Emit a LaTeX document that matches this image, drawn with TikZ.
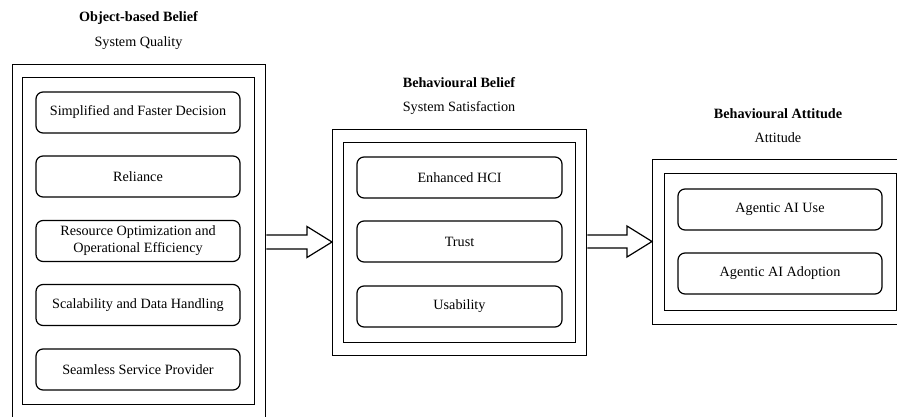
\documentclass[tikz,border=0pt]{standalone}
\usepackage{fontspec}
\setmainfont{Liberation Serif}
\usetikzlibrary{calc}

\tikzset{
  txt/.style={font=\fontsize{14.2}{17}\selectfont, inner sep=0pt, align=center},
  heading/.style={txt, font=\fontsize{14.2}{17}\selectfont\bfseries},
  frame/.style={draw, line width=1.3pt, inner sep=0pt},
  item/.style={txt, draw, line width=1.2pt, rounded corners=7pt,
               minimum width=204pt, minimum height=41pt},
  blockarrow/.style={draw, line width=1.2pt, line join=miter},
}

\begin{document}
\begin{tikzpicture}[x=1pt, y=-1pt]
  \useasboundingbox (0,0) rectangle (897,417);
  \clip (0,0) rectangle (897,417);

  % ---- Object-based belief: system quality ----
  \node[heading] (tq) at (138.5,18) {Object-based Belief};
  \node[txt] (sq) at (138.5,43) {System Quality};
  \node[frame, minimum width=253pt, minimum height=366pt, anchor=north west] (qOuter) at (12,64) {};
  \node[frame, minimum width=232pt, minimum height=327pt, anchor=north west] (qInner) at (22,77) {};
  \node[item] (q1) at (138,112.5) {Simplified and Faster Decision};
  \node[item] (q2) at (138,176.5) {Reliance};
  \node[item] (q3) at (138,241) {Resource Optimization and\\Operational Efficiency};
  \node[item] (q4) at (138,305) {Scalability and Data Handling};
  \node[item] (q5) at (138,369.5) {Seamless Service Provider};

  % ---- Behavioural belief: system satisfaction ----
  \node[heading] (tb) at (459,83) {Behavioural Belief};
  \node[txt] (sb) at (459,108) {System Satisfaction};
  \node[frame, minimum width=254pt, minimum height=226pt, anchor=north west] (sOuter) at (332,129) {};
  \node[frame, minimum width=232pt, minimum height=200pt, anchor=north west] (sInner) at (343,142) {};
  \node[item, minimum width=205pt] (s1) at (459.5,177.5) {Enhanced HCI};
  \node[item, minimum width=205pt] (s2) at (459.5,241.5) {Trust};
  \node[item, minimum width=205pt] (s3) at (459.5,306.5) {Usability};

  % ---- Behavioural attitude ----
  \node[heading] (ta) at (778,114) {Behavioural Attitude};
  \node[txt] (sa) at (778,138) {Attitude};
  \node[frame, minimum width=256pt, minimum height=165pt, anchor=north west] (aOuter) at (652,159) {};
  \node[frame, minimum width=232pt, minimum height=137pt, anchor=north west] (aInner) at (664,173) {};
  \node[item] (a1) at (780,209.5) {Agentic AI Use};
  \node[item] (a2) at (780,273.5) {Agentic AI Adoption};

  % ---- block arrows between the stages ----
  \coordinate (r1s) at (qOuter.east |- 0,242);
  \coordinate (r1e) at (sOuter.west |- 0,242);
  \draw[blockarrow] ($(r1s)+(0,-7)$) -- ($(r1e)+(-25,-7)$) -- ($(r1e)+(-25,-15.5)$)
    -- (r1e) -- ($(r1e)+(-25,15.5)$) -- ($(r1e)+(-25,7)$) -- ($(r1s)+(0,7)$);

  \coordinate (r2s) at (sOuter.east |- 0,241.5);
  \coordinate (r2e) at (aOuter.west |- 0,241.5);
  \draw[blockarrow] ($(r2s)+(0,-6.5)$) -- ($(r2e)+(-25,-6.5)$) -- ($(r2e)+(-25,-15.5)$)
    -- (r2e) -- ($(r2e)+(-25,15.5)$) -- ($(r2e)+(-25,6.5)$) -- ($(r2s)+(0,6.5)$);
\end{tikzpicture}
\end{document}
